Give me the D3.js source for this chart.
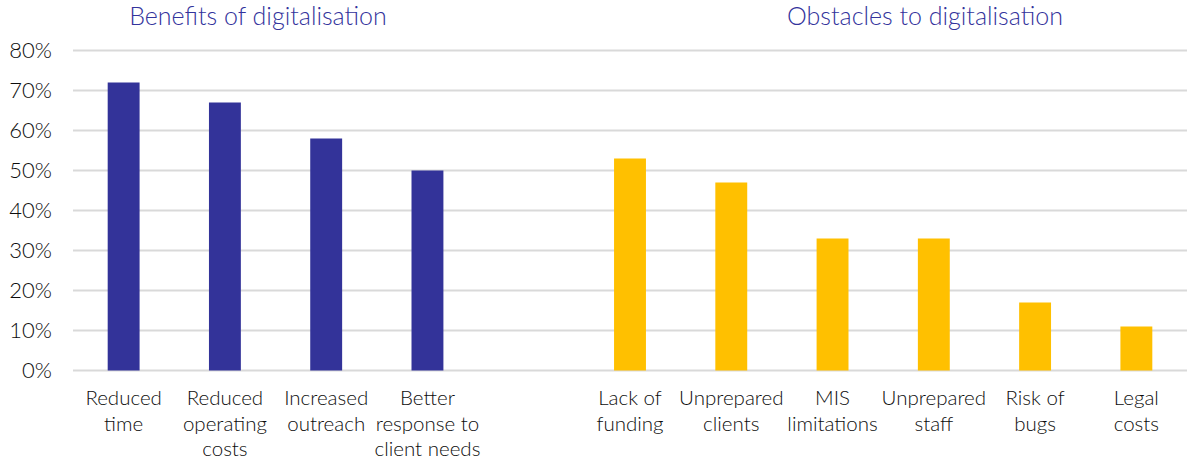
<!DOCTYPE html>
<html><head><meta charset="utf-8">
<script src="https://cdn.jsdelivr.net/npm/d3@7"></script>
<style>body{margin:0;background:#fff}svg{display:block}text{font-family:Lato,"Open Sans",sans-serif;font-weight:300}</style>
</head><body>
<svg id="c" width="1187" height="459"></svg>
<script>
const categories = [
  ["Reduced","time"],
  ["Reduced","operating","costs"],
  ["Increased","outreach"],
  ["Better","response to","client needs"],
  [],
  ["Lack of","funding"],
  ["Unprepared","clients"],
  ["MIS","limitations"],
  ["Unprepared","staff"],
  ["Risk of","bugs"],
  ["Legal","costs"]
];
const benefitValues = [72, 67, 58, 50];
const obstacleValues = [53, 47, 33, 33, 17, 11];
const yTicks = [0,10,20,30,40,50,60,70,80];
const titles = ["Benefits of digitalisation", "Obstacles to digitalisation"];

const svg = d3.select("#c");
const idx = d3.range(categories.length);
const x = d3.scaleBand().domain(idx).range([73, 1187]).paddingInner(0.685).paddingOuter(0.3425);
const y = d3.scaleLinear().domain([0, 80]).range([370.5, 50.5]);

svg.append("g").selectAll("line").data(yTicks).join("line")
  .attr("x1", 73).attr("x2", 1187)
  .attr("y1", d => y(d)).attr("y2", d => y(d))
  .attr("stroke", "#d9d9d9").attr("stroke-width", 2);

const yAxis = d3.axisLeft(y).tickValues(yTicks).tickFormat(d => d + "%").tickSize(0).tickPadding(0);
const ya = svg.append("g").attr("transform", "translate(52,0)").call(yAxis);
ya.select(".domain").remove();
ya.selectAll("text").attr("font-size", 22).attr("fill", "#0d0d0d")
  .attr("font-family", "Lato, sans-serif").attr("font-weight", 300);

const data = [];
benefitValues.forEach((v, i) => data.push({i: i, v: v, c: "#333399"}));
obstacleValues.forEach((v, i) => data.push({i: i + 5, v: v, c: "#FFC000"}));
svg.append("g").selectAll("rect").data(data).join("rect")
  .attr("x", d => x(d.i)).attr("width", x.bandwidth())
  .attr("y", d => y(d.v)).attr("height", d => y(0) - y(d.v))
  .attr("fill", d => d.c);

const xl = svg.append("g");
idx.forEach(i => {
  const t = xl.append("text").attr("text-anchor", "middle").attr("font-size", 20.5).attr("fill", "#0d0d0d");
  categories[i].forEach((line, k) => {
    t.append("tspan").attr("x", x(i) + x.bandwidth()/2).attr("y", 405 + k * 25.5).text(line);
  });
});

svg.append("text").attr("x", 258).attr("y", 25).attr("text-anchor", "middle")
  .attr("font-size", 25).attr("fill", "#33339c").text(titles[0]);
svg.append("text").attr("x", 925).attr("y", 25).attr("text-anchor", "middle")
  .attr("font-size", 25).attr("fill", "#33339c").text(titles[1]);
</script>
</body></html>
